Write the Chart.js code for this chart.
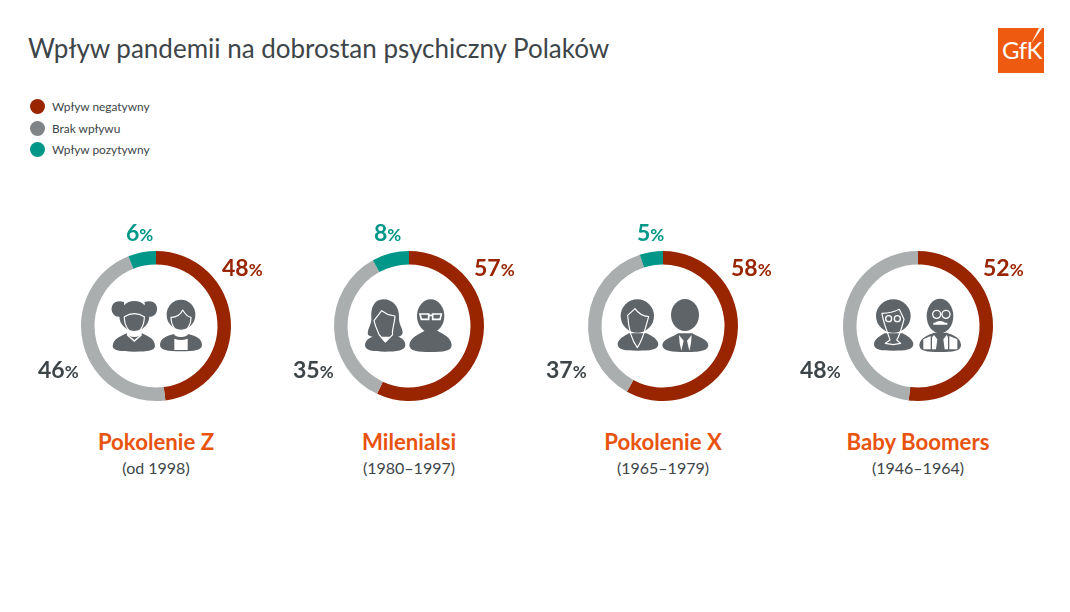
<!DOCTYPE html>
<html lang="pl">
<head>
<meta charset="utf-8">
<title>Wpływ pandemii na dobrostan psychiczny Polaków</title>
<script src="https://cdn.jsdelivr.net/npm/chart.js@4"></script>
<style>
  html, body { margin: 0; padding: 0; background: #fff; }
  body { position: relative; width: 1070px; height: 612px; overflow: hidden; font-family: Lato, sans-serif; color: #3d4549; }
  .abs { position: absolute; white-space: nowrap; }
  h1 { margin: 0; left: 28px; top: 32px; font-size: 26px; font-weight: 400; line-height: 32px; }
  .dot { width: 15px; height: 15px; border-radius: 50%; left: 30px; }
  .leg { left: 52px; font-size: 11.9px; line-height: 16px; }
  canvas { position: absolute; }
  .pct { font-size: 23px; font-weight: 700; line-height: 26px; }
  .pct small { font-size: 17px; font-weight: 700; }
  .name { font-size: 22.2px; font-weight: 700; color: #e8540f; text-align: center; width: 240px; line-height: 26px; }
  .sub { font-size: 16px; text-align: center; width: 240px; line-height: 20px; }
  svg { position: absolute; }
  #logo { left: 998px; top: 28px; width: 46px; height: 45px; background: #ee5a10; overflow: hidden; }
  #logo span { position: absolute; left: 4px; top: 8px; font-size: 24px; line-height: 28px; color: #fff; letter-spacing: -0.5px; }
</style>
</head>
<body>
<h1 class="abs">Wpływ pandemii na dobrostan psychiczny Polaków</h1>
<div id="logo" class="abs"><span>GfK</span>
  <svg width="46" height="45" style="left:0;top:0"><path d="M41 0 L44 0 L33 16 Z" fill="#fff"/></svg>
</div>
<div id="root"></div>

<script>
// Series, same order as the legend
const seriesNames = ["Wpływ negatywny", "Brak wpływu", "Wpływ pozytywny"];
const seriesColors = ["#982400", "#aaaeae", "#009688"];
const legendColors = ["#982400", "#808487", "#009688"];
const labelColors = ["#982400", "#3d4549", "#009688"];

const generations = ["Pokolenie Z", "Milenialsi", "Pokolenie X", "Baby Boomers"];
const years = ["(od 1998)", "(1980–1997)", "(1965–1979)", "(1946–1964)"];

const negative = [48, 57, 58, 52];
const neutral = [46, 35, 37, 48];
const positive = [6, 8, 5, 0];

// Layout of each ring and of its three labels (left edge of the text, top of the line)
const centers = [156, 409, 663, 918];
const CY = 326, R = 75;
const labelSpots = [
  [[222, 254], [38, 356], [126, 219]],
  [[474, 254], [293, 356], [374, 219]],
  [[731, 254], [546, 356], [637, 219]],
  [[983, 254], [800, 356], null]
];

const root = document.getElementById("root");

function addDiv(cls, style, html) {
  const d = document.createElement("div");
  d.className = "abs " + cls;
  d.style.cssText = style;
  d.innerHTML = html || "";
  root.appendChild(d);
}

seriesNames.forEach((name, i) => {
  addDiv("dot", `top:${99 + i * 21.5}px;background:${legendColors[i]}`);
  addDiv("leg", `top:${99 + i * 21.5}px`, name);
});

generations.forEach((gen, g) => {
  const canvas = document.createElement("canvas");
  canvas.width = 160;
  canvas.height = 160;
  canvas.style.left = (centers[g] - 80) + "px";
  canvas.style.top = (CY - 80) + "px";
  root.appendChild(canvas);

  new Chart(canvas.getContext("2d"), {
    type: "doughnut",
    data: {
      labels: seriesNames,
      datasets: [{
        data: [negative[g], neutral[g], positive[g]],
        backgroundColor: seriesColors,
        borderWidth: 0
      }]
    },
    options: {
      responsive: false,
      animation: false,
      radius: R,
      cutout: "82%",
      plugins: { legend: { display: false }, tooltip: { enabled: false } }
    }
  });

  [negative[g], neutral[g], positive[g]].forEach((v, s) => {
    const spot = labelSpots[g][s];
    if (!spot) return;
    addDiv("pct", `left:${spot[0]}px;top:${spot[1]}px;color:${labelColors[s]}`, `${v}<small>%</small>`);
  });

  addDiv("name", `left:${centers[g] - 120}px;top:429px`, gen);
  addDiv("sub", `left:${centers[g] - 120}px;top:458px`, years[g]);
});

// Person icons, path coordinates are 3x page pixels relative to each svg origin
const W = 'fill="none" stroke="#fff" stroke-width="3.5" stroke-linejoin="round"';
const G = 'fill="#5f6468"';
const icons = [
  { x: 20, y: 210, w: 260, h: 270, body: `
    <path ${G} d="M312 276C285 268 270 285 276 305C282 322 300 324 312 314ZM374 276C401 268 416 285 410 305C404 322 386 324 374 314Z"/>
    <ellipse ${G} cx="343" cy="318" rx="45" ry="45"/>
    <path ${W} d="M313 320Q343 302 373 320C373 350 358 368 343 370C328 368 313 350 313 320Z"/>
    <path ${G} d="M278 408C280 388 298 380 320 370C326 385 360 385 366 370C388 380 404 388 405 408C405 422 385 425 343 425C300 425 278 422 278 408Z"/>
    <path fill="#fff" d="M322 372L343 390L364 372L366 376L343 396L320 376Z"/>
    <ellipse ${G} cx="483" cy="314" rx="43" ry="45"/>
    <path ${W} d="M453 322Q478 322 488 300Q500 320 513 322C513 348 498 366 483 366C468 366 453 348 453 322Z"/>
    <path ${G} d="M420 405C420 385 440 378 462 372C464 384 502 384 504 372C526 378 546 385 546 405C546 420 525 424 483 424C441 424 420 420 420 405Z"/>
    <path fill="#fff" d="M463 386Q483 394 503 386L503 420L463 420Z"/>` },
  { x: 350, y: 280, w: 120, h: 90, body: `
    <path ${G} d="M100 58C72 58 62 85 64 112C66 135 50 148 54 164C60 172 80 172 95 170L125 170C140 172 155 172 158 158C158 142 146 135 147 110C148 82 130 58 100 58Z"/>
    <path ${G} d="M45 195C46 178 62 170 85 164L106 186L128 164C150 170 166 178 166 195C166 212 140 215 105 215C70 215 45 212 45 195Z"/>
    <path ${W} d="M95 92L72 122C76 140 84 155 88 165L106 186L128 164C124 155 134 130 135 108L115 104Z"/>
    <ellipse ${G} cx="242" cy="108" rx="41" ry="50"/>
    <path ${G} d="M178 195C180 172 205 164 224 152L262 152C282 164 304 172 305 195C305 214 280 216 242 216C204 216 178 214 178 195Z"/>
    <path fill="none" stroke="#fff" stroke-width="5" d="M210 102H236V118H214ZM236 106H248M248 102H274L270 118H248Z"/>` },
  { x: 605, y: 280, w: 120, h: 90, body: `
    <ellipse ${G} cx="97" cy="108" rx="50" ry="50"/>
    <path ${G} d="M38 192C40 176 58 168 72 160L125 160C140 168 158 176 160 192C160 210 135 212 97 212C60 212 38 210 38 192Z"/>
    <path ${W} d="M90 86L68 106C70 140 78 178 97 203C115 178 122 140 131 110Q105 108 90 86Z"/>
    <ellipse ${G} cx="240" cy="105" rx="42" ry="48"/>
    <path ${G} d="M172 195C174 178 200 172 220 160L262 160C282 172 308 178 310 195C310 214 280 216 240 216C202 216 172 214 172 195Z"/>
    <path fill="#fff" d="M222 165L236 182L229 212L224 190ZM260 165L246 182L253 212L258 190Z"/>` },
  { x: 860, y: 280, w: 120, h: 90, body: `
    <ellipse ${G} cx="100" cy="108" rx="52" ry="50"/>
    <path ${G} d="M42 192C44 176 60 168 74 160L128 160C142 168 158 176 160 192C160 210 135 212 100 212C62 212 42 210 42 192Z"/>
    <path ${W} d="M66 100Q95 100 118 88L132 118C126 140 120 165 110 180L122 190L100 194L76 190L90 180C84 160 70 130 66 100Z"/>
    <circle fill="none" stroke="#fff" stroke-width="4" cx="86" cy="116" r="9"/>
    <circle fill="none" stroke="#fff" stroke-width="4" cx="112" cy="116" r="9"/>
    <ellipse ${G} cx="240" cy="108" rx="40" ry="52"/>
    <circle fill="none" stroke="#fff" stroke-width="4" cx="230" cy="103" r="12"/>
    <circle fill="none" stroke="#fff" stroke-width="4" cx="258" cy="103" r="12"/>
    <path fill="#fff" d="M222 130Q240 116 258 130Q240 126 222 130Z M220 128H262V134H220Z"/>
    <path ${G} d="M178 195C180 172 205 165 222 158L260 158C280 165 302 172 303 195C303 214 280 216 240 216C200 216 178 214 178 195Z"/>
    <path fill="#fff" d="M190 178L212 168V208H190ZM268 168L292 178V208H268Z"/>
    <path fill="#fff" d="M222 165L232 178L228 208H216V172ZM260 165L250 178L254 208H264V172Z"/>` }
];

icons.forEach(ic => {
  const ns = `<svg xmlns="http://www.w3.org/2000/svg" style="left:${ic.x}px;top:${ic.y}px" width="${ic.w}" height="${ic.h}" viewBox="0 0 ${ic.w * 3} ${ic.h * 3}">${ic.body}</svg>`;
  root.insertAdjacentHTML("beforeend", ns);
});
</script>
</body>
</html>
